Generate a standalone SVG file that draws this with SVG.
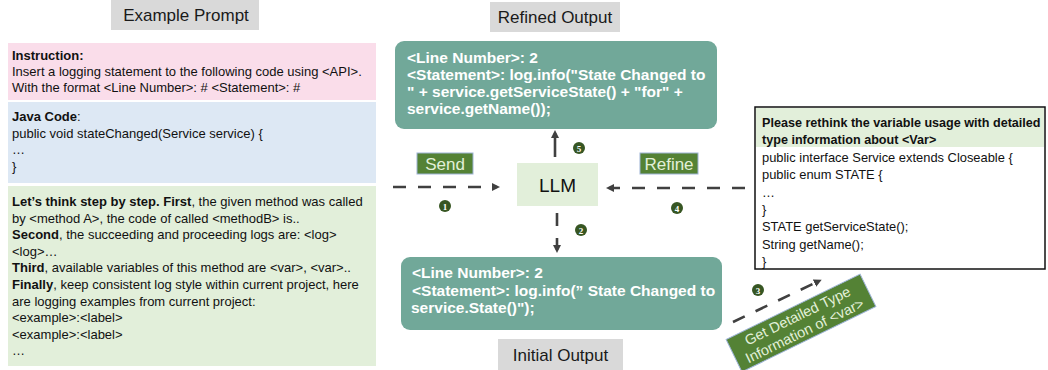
<svg xmlns="http://www.w3.org/2000/svg" width="1048" height="370" viewBox="0 0 1048 370">
<style>
text{font-family:"Liberation Sans",Arial,sans-serif;}
.lbl{font-size:17px;fill:#1a1a1a;}
.gray{fill:#D9D9D9;}
.t{font-size:13px;fill:#111;}
.r{font-size:12.9px;fill:#111;}
.b{font-weight:bold;}
.rb{font-size:12.6px;fill:#111;font-weight:bold;}
.out{font-size:15.5px;fill:#fff;font-weight:bold;}
.teal{fill:#71A899;}
.gbtn{fill:#548235;stroke:#9DB3D6;stroke-width:1;}
.gtxt{font-size:17px;fill:#E2F0D9;}
.badge{fill:#375623;}
.bn{font-size:9px;fill:#fff;font-weight:bold;text-anchor:middle;font-family:"Liberation Serif",serif;}
.dash{stroke:#404040;stroke-width:2.6;fill:none;stroke-dasharray:13,12;}
.solid{stroke:#404040;stroke-width:2.6;fill:none;}
</style>
<defs>
<marker id="ah" markerWidth="8" markerHeight="8" refX="5" refY="4" orient="auto" markerUnits="userSpaceOnUse">
<path d="M0,0 L8,4 L0,8 Z" fill="#404040"/>
</marker>
</defs>

<g id="example-prompt-label">
<rect class="gray" x="111" y="0" width="148" height="30"/>
<text class="lbl" x="186" y="21" text-anchor="middle">Example Prompt</text>
</g>

<g id="instruction">
<rect x="8" y="43" width="368" height="57" fill="#FADDEA"/>
<text class="t" x="12" y="59.5"><tspan class="b">Instruction:</tspan></text>
<text class="t" x="12" y="75.5">Insert a logging statement to the following code using &lt;API&gt;.</text>
<text class="t" x="12" y="92">With the format &lt;Line Number&gt;: # &lt;Statement&gt;: #</text>
</g>

<g id="java-code">
<rect x="8" y="102" width="368" height="81" fill="#DDE8F4"/>
<text class="t" x="12" y="121"><tspan class="b">Java Code</tspan>:</text>
<text class="t" x="12" y="138">public void stateChanged(Service service) {</text>
<text class="t" x="12" y="154">…</text>
<text class="t" x="12" y="171">}</text>
</g>

<g id="cot">
<rect x="8" y="186" width="368" height="180" fill="#E2EFDA"/>
<text class="t" x="12" y="206"><tspan class="b">Let’s think step by step. First</tspan>, the given method was called</text>
<text class="t" x="12" y="222.6">by &lt;method A&gt;, the code of called &lt;methodB&gt; is..</text>
<text class="t" x="12" y="239.2"><tspan class="b">Second</tspan>, the succeeding and proceeding logs are: &lt;log&gt;</text>
<text class="t" x="12" y="255.8">&lt;log&gt;…</text>
<text class="t" x="12" y="272.4"><tspan class="b">Third</tspan>, available variables of this method are &lt;var&gt;, &lt;var&gt;..</text>
<text class="t" x="12" y="289"><tspan class="b">Finally</tspan>, keep consistent log style within current project, here</text>
<text class="t" x="12" y="305.6">are logging examples from current project:</text>
<text class="t" x="12" y="322.2">&lt;example&gt;:&lt;label&gt;</text>
<text class="t" x="12" y="338.8">&lt;example&gt;:&lt;label&gt;</text>
<text class="t" x="12" y="355.4">…</text>
</g>

<g id="refined-output-label">
<rect class="gray" x="490" y="2" width="130" height="30"/>
<text class="lbl" x="555" y="23" text-anchor="middle">Refined Output</text>
</g>

<g id="refined-output">
<rect class="teal" x="395" y="41" width="322" height="88" rx="9"/>
<text class="out" x="407" y="63">&lt;Line Number&gt;: 2</text>
<text class="out" x="407" y="80">&lt;Statement&gt;: log.info("State Changed to</text>
<text class="out" x="407" y="97">" + service.getServiceState() + "for" +</text>
<text class="out" x="407" y="113.5">service.getName());</text>
</g>

<g id="send">
<rect class="gbtn" x="417" y="153" width="56" height="21"/>
<text class="gtxt" x="445" y="170" text-anchor="middle">Send</text>
</g>

<g id="llm">
<rect x="517" y="163" width="81" height="43" fill="#E2EFDA"/>
<text x="557.5" y="191.5" text-anchor="middle" font-size="19" fill="#111">LLM</text>
</g>

<g id="refine">
<rect class="gbtn" x="640" y="153" width="58" height="21"/>
<text class="gtxt" x="669" y="170" text-anchor="middle">Refine</text>
</g>

<g id="initial-output">
<rect class="teal" x="401" y="257" width="321" height="73" rx="9"/>
<text class="out" x="412" y="278">&lt;Line Number&gt;: 2</text>
<text class="out" x="412" y="296">&lt;Statement&gt;: log.info(” State Changed to</text>
<text class="out" x="411" y="313">service.State()");</text>
</g>

<g id="initial-output-label">
<rect class="gray" x="498" y="339" width="125" height="31"/>
<text class="lbl" x="560.5" y="361" text-anchor="middle">Initial Output</text>
</g>

<g id="type-info">
<rect x="755" y="107" width="290" height="162" fill="#fff" stroke="#111" stroke-width="1.5"/>
<rect x="756" y="108" width="288" height="39" fill="#E2EFDA"/>
<text class="rb" x="762" y="126.5">Please rethink the variable usage with detailed</text>
<text class="rb" x="762" y="144">type information about &lt;Var&gt;</text>
<text class="r" x="762" y="161.5">public interface Service extends Closeable {</text>
<text class="r" x="762" y="179">public enum STATE {</text>
<text class="r" x="762" y="196.5">…</text>
<text class="r" x="762" y="213.5">}</text>
<text class="r" x="762" y="231">STATE getServiceState();</text>
<text class="r" x="762" y="249">String getName();</text>
<text class="r" x="762" y="266">}</text>
</g>

<g id="get-type">
<g transform="rotate(-26 801 323)">
<rect x="726.5" y="305" width="149" height="36" fill="#548235" stroke="#9DB3D6" stroke-width="1"/>
<text x="801" y="320" text-anchor="middle" font-size="14.5" fill="#E2F0D9">Get Detailed Type</text>
<text x="801" y="336.5" text-anchor="middle" font-size="14.5" fill="#E2F0D9">Information of &lt;var&gt;</text>
</g>
</g>

<g id="connectors">
<line class="dash" x1="393" y1="187" x2="497" y2="187" marker-end="url(#ah)"/>
<line class="dash" x1="745" y1="188" x2="609" y2="188" marker-end="url(#ah)"/>
<line class="solid" x1="555" y1="157" x2="555" y2="133" marker-end="url(#ah)"/>
<line class="dash" x1="557" y1="213" x2="557" y2="250" stroke-dasharray="8,6" marker-end="url(#ah)"/>
<line class="dash" x1="733" y1="322" x2="819" y2="281" marker-end="url(#ah)"/>
</g>

<g id="badges">
<circle class="badge" cx="445" cy="206" r="6"/><text class="bn" x="445" y="209.5">1</text>
<circle class="badge" cx="581" cy="230" r="6"/><text class="bn" x="581" y="233.5">2</text>
<circle class="badge" cx="758" cy="290" r="6"/><text class="bn" x="758" y="293.5">3</text>
<circle class="badge" cx="677" cy="208" r="6"/><text class="bn" x="677" y="211.5">4</text>
<circle class="badge" cx="579" cy="148" r="6"/><text class="bn" x="579" y="151.5">5</text>
</g>
</svg>
